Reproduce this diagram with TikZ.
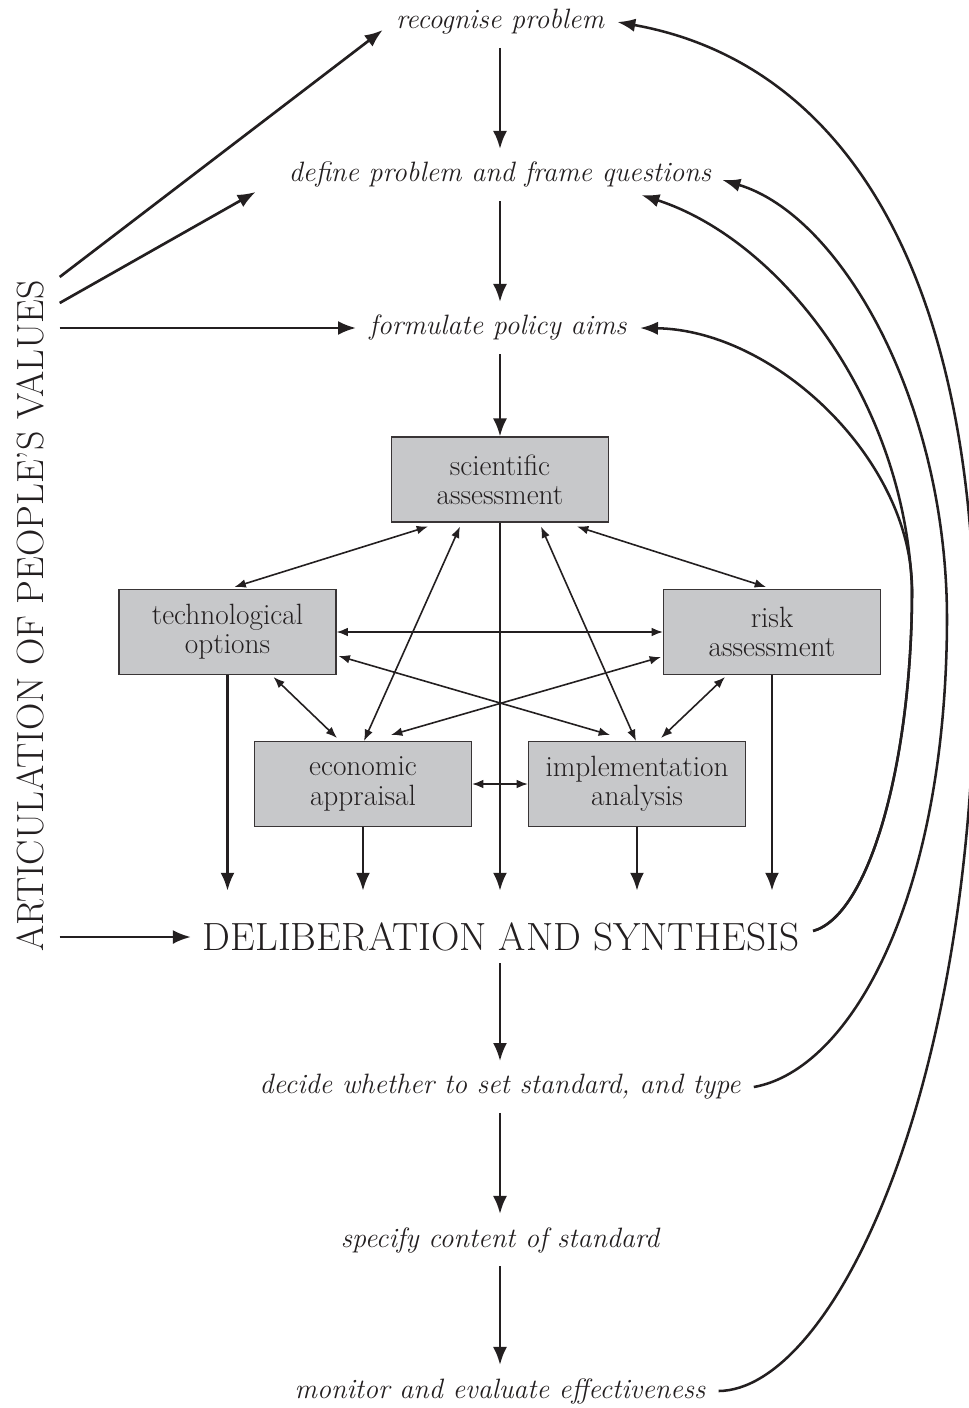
\documentclass[tikz,border=0pt]{standalone}
\usetikzlibrary{arrows.meta,calc}
\definecolor{ink}{HTML}{231F20}
\definecolor{boxgrey}{HTML}{C7C8CA}

\begin{document}
\begin{tikzpicture}[x=0.75pt,y=-0.75pt,
  every node/.style={text=ink},
  stage/.style={font=\fontsize{21}{21}\selectfont\itshape, inner sep=0pt, outer sep=10pt},
  unit/.style={draw=ink!90, line width=0.8pt, fill=boxgrey,
    minimum width=162.75pt, minimum height=63.75pt, inner sep=0pt,
    align=center, font=\fontsize{22}{22}\selectfont},
  big/.style={font=\fontsize{29.5}{32}\selectfont, inner sep=0pt, outer sep=9pt},
  side/.style={font=\fontsize{28.4}{32}\selectfont, inner sep=0pt, outer sep=9pt},
  flow/.style={draw=ink, line width=2pt, -{Latex[length=13.5pt,width=10.5pt]}},
  link/.style={draw=ink, line width=1.2pt, {Latex[length=8.5pt,width=6.5pt]}-{Latex[length=8.5pt,width=6.5pt]}},
  loop/.style={draw=ink, line width=1.9pt, -{Latex[length=13.5pt,width=10pt]}},
]
\useasboundingbox (0,0) rectangle (969,1408);

% stages of the process
\node[stage] (rec)    at (500,22)   {recognise problem};
\node[stage] (def)    at (500,175)  {define problem and frame questions};
\node[stage] (aims)   at (498,328)  {formulate policy aims};
\node[big]   (synth)  at (501,937)  {DELIBERATION AND SYNTHESIS};
\node[stage] (decide) at (500,1087) {decide whether to set standard, and type};
\node[stage] (spec)   at (500,1240) {specify content of standard};
\node[stage] (mon)    at (500,1391) {monitor and evaluate effectiveness};
\node[side, rotate=90] (values) at (30,616) {ARTICULATION OF PEOPLE'S VALUES};

% the five analyses
\node[unit] (sci)  at (500,479.5) {scientific\\assessment};
\node[unit] (tech) at (227.5,632) {technological\\options};
\node[unit] (risk) at (772,632)   {risk\\assessment};
\node[unit] (econ) at (363,784)   {economic\\appraisal};
\node[unit] (impl) at (637,784)   {implementation\\analysis};

% main sequence
\draw[flow] (rec.south) -- (def.north);
\draw[flow] (def.south) -- (aims.north -| def.south);
\draw[flow] (aims.south -| sci.north) -- (sci.north);
\draw[flow] (synth.south -| sci.south) -- (decide.north);
\draw[flow] (decide.south) -- (spec.north);
\draw[flow] (spec.south) -- (mon.north);

% analyses feeding deliberation
\coordinate (dtop) at ($(synth.north)+(0,-20)$);
\foreach \n in {tech,econ,sci,impl,risk}
  \draw[flow] (\n.south) -- (\n.south |- dtop);

% links between analyses
\draw[link] ($(sci.south)+(-72,4)$) -- ($(tech.north)+(7,-2)$);
\draw[link] ($(sci.south)+(77,4)$)  -- ($(risk.north)+(-6,-2)$);
\draw[link] ($(sci.south)+(-40,4)$) -- ($(econ.north)+(1,0)$);
\draw[link] ($(sci.south)+(41,4)$)  -- ($(impl.north)+(-1,0)$);
\draw[link] (tech.east) -- (risk.west);
\draw[link] ($(tech.east)+(2,24)$) -- ($(impl.north)+(-27,-6)$);
\draw[link] ($(risk.west)+(-2,25)$) -- ($(econ.north)+(28,-6)$);
\draw[link] ($(tech.south)+(46,2)$) -- ($(econ.north)+(-26,-3)$);
\draw[link] ($(risk.south)+(-47,2)$) -- ($(impl.north)+(24,-3)$);
\draw[link] (econ.east) -- (impl.west);

% people's values
\draw[flow] ($(values.south |- aims)+(4,-51)$) -- ($(rec.west)+(0,8)$);
\draw[flow] ($(values.south |- aims)+(4,-25)$) -- ($(def.west)+(-20,17)$);
\draw[flow] ($(values.south |- aims)+(4,0)$) -- (aims.west);
\draw[flow] ($(values.south |- synth)+(4,0)$) -- (synth.west);

% feedback loops
\coordinate (m) at (912,590);
\draw[loop] ($(synth.east)+(2,-6)$) .. controls (870,915) and (912,760) .. (m)
  .. controls (912,460) and (775,330) .. (aims.east);
\draw[loop] ($(synth.east)+(2,-6)$) .. controls (870,915) and (912,760) .. (m)
  .. controls (905,400) and (780,240) .. ($(def.east)+(-83,20)$);
\draw[loop] (decide.east) .. controls (850,1070) and (946,900) .. (947,620)
  .. controls (947,400) and (840,215) .. ($(def.east)+(-2,5)$);
\draw[loop] (mon.east) .. controls (830,1390) and (975,1100) .. (975,650)
  .. controls (975,250) and (830,60) .. (rec.east);
\end{tikzpicture}
\end{document}
